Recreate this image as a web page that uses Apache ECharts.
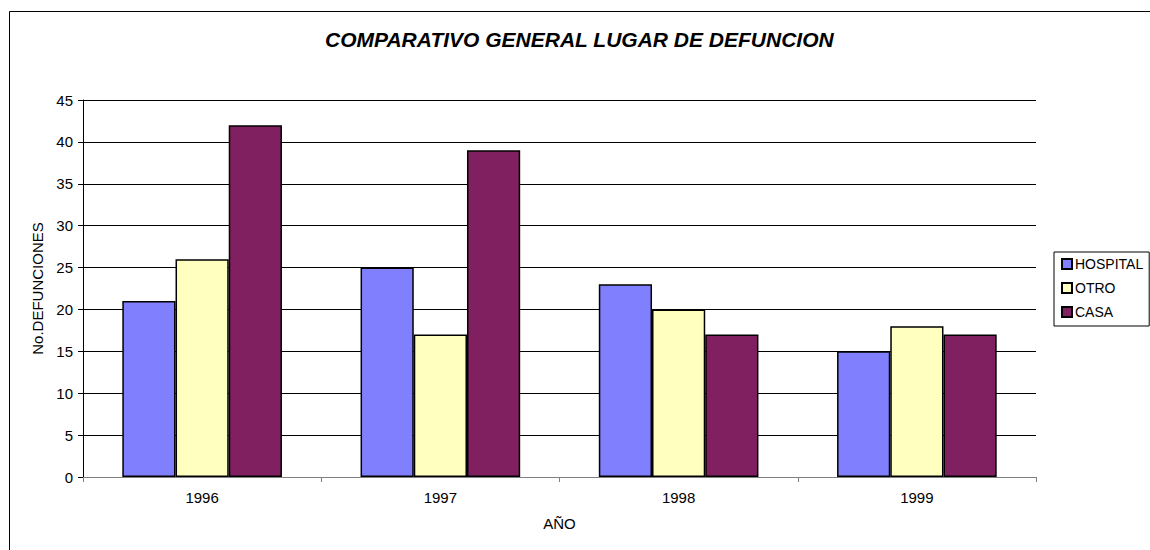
<!DOCTYPE html>
<html>
<head>
<meta charset="utf-8">
<script src="https://cdn.jsdelivr.net/npm/echarts@6/dist/echarts.min.js"></script>
<style>
  html, body { margin: 0; padding: 0; background: #fff; }
  #chart { width: 1150px; height: 550px; }
</style>
</head>
<body>
<div id="chart"></div>
<script>
const years = ["1996", "1997", "1998", "1999"];
const hospital = [21, 25, 23, 15];
const otro = [26, 17, 20, 18];
const casa = [42, 39, 17, 17];

const FONT = "'Liberation Sans', Arial, sans-serif";

const chart = echarts.init(document.getElementById("chart"), null, { renderer: "svg" });

const barStyle = (color) => ({
  color: color,
  borderColor: "#000",
  borderWidth: 1.5,
});

const option = {
  animation: false,
  textStyle: { fontFamily: FONT },
  title: {
    text: "COMPARATIVO GENERAL LUGAR DE DEFUNCION",
    left: 320,
    top: 24,
    textStyle: {
      fontFamily: FONT,
      fontSize: 21,
      fontWeight: "bold",
      fontStyle: "italic",
      color: "#000",
    },
  },
  // marco exterior del gráfico
  graphic: [
    {
      type: "rect",
      silent: true,
      shape: { x: 9.5, y: 11.5, width: 1300, height: 700 },
      style: { fill: "none", stroke: "#000", lineWidth: 1 },
    },
  ],
  legend: {
    orient: "vertical",
    left: 1054,
    top: 252,
    width: 95,
    padding: [5, 6, 7, 7],
    itemWidth: 10,
    itemHeight: 10,
    itemGap: 10,
    borderColor: "#000",
    borderWidth: 1,
    icon: "rect",
    textStyle: { fontFamily: FONT, fontSize: 14, color: "#000", padding: [0, 0, 0, -2] },
  },
  grid: {
    left: 83,
    right: 114,
    top: 100,
    bottom: 73,
    containLabel: false,
  },
  xAxis: {
    type: "category",
    data: years,
    name: "AÑO",
    nameLocation: "middle",
    nameGap: 39,
    nameTextStyle: { fontFamily: FONT, fontSize: 15, color: "#000" },
    axisLine: { lineStyle: { color: "#808080", width: 1 } },
    axisTick: { show: true, length: 5, lineStyle: { color: "#808080" } },
    axisLabel: { fontFamily: FONT, fontSize: 15, color: "#000", margin: 13 },
  },
  yAxis: {
    type: "value",
    min: 0,
    max: 45,
    interval: 5,
    name: "No.DEFUNCIONES",
    nameLocation: "middle",
    nameGap: 37,
    nameTextStyle: { fontFamily: FONT, fontSize: 15, color: "#000" },
    axisLine: { show: true, lineStyle: { color: "#000", width: 1 } },
    axisTick: { show: true, length: 5, lineStyle: { color: "#000" } },
    axisLabel: { fontFamily: FONT, fontSize: 15, color: "#000", margin: 10 },
    splitLine: { lineStyle: { color: "#000", width: 1 } },
  },
  series: [
    {
      name: "HOSPITAL",
      type: "bar",
      data: hospital,
      itemStyle: barStyle("#8080FF"),
      barGap: "0%",
      barCategoryGap: "33%",
    },
    {
      name: "OTRO",
      type: "bar",
      data: otro,
      itemStyle: barStyle("#FFFFC0"),
    },
    {
      name: "CASA",
      type: "bar",
      data: casa,
      itemStyle: barStyle("#802060"),
    },
  ],
};

chart.setOption(option);
</script>
</body>
</html>
